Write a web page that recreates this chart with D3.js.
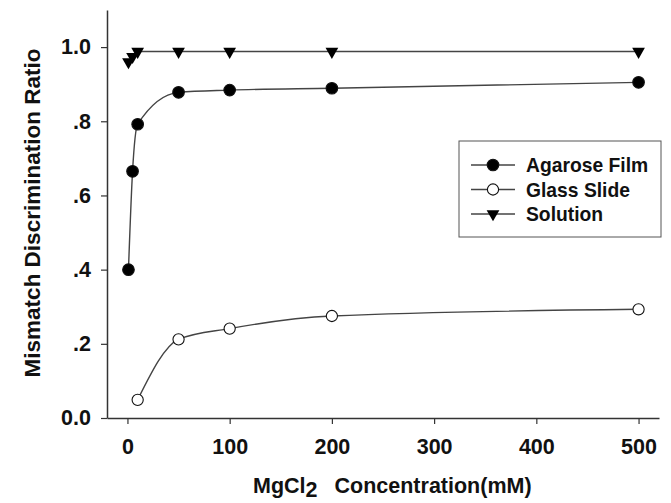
<!DOCTYPE html>
<html>
<head>
<meta charset="utf-8">
<script src="https://cdn.jsdelivr.net/npm/d3@7"></script>
<style>
  body { margin: 0; background: #fff; }
  svg { display: block; font-family: "Liberation Sans", Arial, sans-serif; font-weight: bold; }
</style>
</head>
<body>
<div id="chart"></div>
<script>
// MgCl2 concentration (mM) for each series
const agaroseX = [1, 5, 10, 50, 100, 200, 500];
const agaroseY = [0.40, 0.665, 0.792, 0.878, 0.884, 0.889, 0.905];

const glassX = [10, 50, 100, 200, 500];
const glassY = [0.049, 0.212, 0.241, 0.275, 0.293];

const solutionX = [1, 5, 10, 50, 100, 200, 500];
const solutionY = [0.96, 0.974, 0.988, 0.988, 0.988, 0.988, 0.988];

const seriesNames = ["Agarose Film", "Glass Slide", "Solution"];
const xTicks = [0, 100, 200, 300, 400, 500];
const yTicks = [0, 0.2, 0.4, 0.6, 0.8, 1.0];
const yTickLabels = ["0.0", ".2", ".4", ".6", ".8", "1.0"];

const width = 671, height = 503;
const margin = { top: 10, right: 12, bottom: 85, left: 107 };

const svg = d3.select("#chart").append("svg")
  .attr("width", width)
  .attr("height", height);

const x = d3.scaleLinear().domain([-20, 520]).range([margin.left, width - margin.right]);
const y = d3.scaleLinear().domain([0, 1.1]).range([height - margin.bottom, margin.top]);

const axisColor = "#333";
const tickFont = "21.5px";

// X axis
const xAxis = svg.append("g")
  .attr("transform", `translate(0,${y(0)})`)
  .call(d3.axisBottom(x).tickValues(xTicks).tickSize(6).tickSizeOuter(0).tickPadding(15));
xAxis.select(".domain").attr("stroke", axisColor).attr("stroke-width", 1.5);
xAxis.selectAll(".tick line").attr("stroke", axisColor).attr("stroke-width", 1.2);
xAxis.selectAll("text").attr("fill", "#111").style("font-size", tickFont).style("font-weight", "bold");

// Y axis
const yAxis = svg.append("g")
  .attr("transform", `translate(${x(-20)},0)`)
  .call(d3.axisLeft(y).tickValues(yTicks).tickSize(6).tickSizeOuter(0).tickPadding(10)
    .tickFormat((d, i) => yTickLabels[i]));
yAxis.select(".domain").attr("stroke", axisColor).attr("stroke-width", 1.5);
yAxis.selectAll(".tick line").attr("stroke", axisColor).attr("stroke-width", 1.2);
yAxis.selectAll("text").attr("fill", "#111").style("font-size", tickFont).style("font-weight", "bold");

// Axis titles
svg.append("text")
  .attr("transform", "translate(40,213) rotate(-90)")
  .attr("text-anchor", "middle")
  .attr("fill", "#111")
  .style("font-size", "22.5px")
  .text("Mismatch Discrimination Ratio");

const xTitle = svg.append("text")
  .attr("x", 253)
  .attr("y", 493)
  .attr("fill", "#111")
  .style("font-size", "21.5px");
xTitle.append("tspan").text("MgCl");
xTitle.append("tspan").attr("dy", 4).text("2");
xTitle.append("tspan").attr("dy", -4).attr("dx", 17).text("Concentration(mM)");

// Series
const series = [
  { name: seriesNames[0], xs: agaroseX, ys: agaroseY, marker: "filled" },
  { name: seriesNames[1], xs: glassX, ys: glassY, marker: "open" },
  { name: seriesNames[2], xs: solutionX, ys: solutionY, marker: "triangle" }
];

const lineColor = "#444";
const line = d3.line()
  .x(d => x(d[0]))
  .y(d => y(d[1]))
  .curve(d3.curveMonotoneX);

const triangle = d3.symbol().type(d3.symbolTriangle).size(70);

function drawMarker(g, type, cx, cy) {
  if (type === "triangle") {
    g.append("path")
      .attr("d", triangle())
      .attr("transform", `translate(${cx},${cy}) rotate(180)`)
      .attr("fill", "#000");
  } else {
    g.append("circle")
      .attr("cx", cx)
      .attr("cy", cy)
      .attr("r", type === "filled" ? 5.8 : 5.6)
      .attr("fill", type === "filled" ? "#000" : "#fff")
      .attr("stroke", "#111")
      .attr("stroke-width", 1.1);
  }
}

series.forEach(s => {
  const pts = s.xs.map((v, i) => [v, s.ys[i]]);
  svg.append("path")
    .datum(pts)
    .attr("fill", "none")
    .attr("stroke", lineColor)
    .attr("stroke-width", 1.4)
    .attr("d", line);
  const g = svg.append("g");
  pts.forEach(p => drawMarker(g, s.marker, x(p[0]), y(p[1])));
});

// Legend
const legend = svg.append("g").attr("transform", "translate(459,141)");
legend.append("rect")
  .attr("width", 202)
  .attr("height", 96)
  .attr("fill", "#fff")
  .attr("stroke", "#555")
  .attr("stroke-width", 1);

series.forEach((s, i) => {
  const ly = 24 + i * 24.5;
  legend.append("line")
    .attr("x1", 12).attr("x2", 56)
    .attr("y1", ly).attr("y2", ly)
    .attr("stroke", lineColor)
    .attr("stroke-width", 1.4);
  drawMarker(legend, s.marker, 34, ly);
  legend.append("text")
    .attr("x", 67)
    .attr("y", ly + 7)
    .attr("fill", "#111")
    .style("font-size", "19.3px")
    .text(s.name);
});
</script>
</body>
</html>
